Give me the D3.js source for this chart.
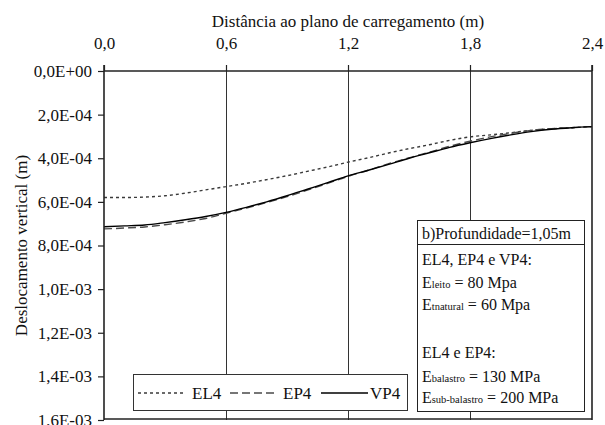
<!DOCTYPE html>
<html>
<head>
<meta charset="utf-8">
<script src="https://cdn.jsdelivr.net/npm/d3@7"></script>
<style>
  html, body { margin: 0; padding: 0; background: #fff; }
  svg { display: block; }
  svg text { font-family: "Liberation Serif", Tinos, "Times New Roman", Times, "DejaVu Serif", serif; }
</style>
</head>
<body>
<svg id="chart" width="605" height="425"></svg>
<script>
// Distance from the loading plane (m)
const distance = [0.0, 0.1, 0.2, 0.3, 0.4, 0.5, 0.6, 0.7, 0.8, 0.9, 1.0, 1.1, 1.2,
                  1.3, 1.4, 1.5, 1.6, 1.7, 1.8, 1.9, 2.0, 2.1, 2.2, 2.3, 2.4];

// Vertical displacement (m) for each model
const el4 = [5.80e-4, 5.80e-4, 5.78e-4, 5.72e-4, 5.60e-4, 5.45e-4, 5.30e-4, 5.15e-4, 4.98e-4,
             4.80e-4, 4.60e-4, 4.40e-4, 4.18e-4, 3.98e-4, 3.76e-4, 3.56e-4, 3.38e-4, 3.18e-4,
             3.02e-4, 2.93e-4, 2.83e-4, 2.72e-4, 2.65e-4, 2.60e-4, 2.55e-4];
const ep4 = [7.24e-4, 7.20e-4, 7.15e-4, 7.05e-4, 6.92e-4, 6.76e-4, 6.52e-4, 6.28e-4, 6.03e-4,
             5.76e-4, 5.46e-4, 5.15e-4, 4.83e-4, 4.55e-4, 4.25e-4, 3.98e-4, 3.72e-4, 3.45e-4,
             3.22e-4, 3.02e-4, 2.86e-4, 2.72e-4, 2.64e-4, 2.60e-4, 2.55e-4];
const vp4 = [7.14e-4, 7.10e-4, 7.06e-4, 6.95e-4, 6.82e-4, 6.67e-4, 6.48e-4, 6.25e-4, 6.00e-4,
             5.72e-4, 5.42e-4, 5.12e-4, 4.81e-4, 4.55e-4, 4.28e-4, 4.00e-4, 3.75e-4, 3.50e-4,
             3.29e-4, 3.10e-4, 2.93e-4, 2.78e-4, 2.67e-4, 2.60e-4, 2.55e-4];

const seriesNames = ["EL4", "EP4", "VP4"];
const xTicks = [0.0, 0.6, 1.2, 1.8, 2.4];
const yTicks = [0, 2e-4, 4e-4, 6e-4, 8e-4, 1.0e-3, 1.2e-3, 1.4e-3, 1.6e-3];

const xTitle = "Distância ao plano de carregamento (m)";
const yTitle = "Deslocamento vertical (m)";
const boxTitle = "b)Profundidade=1,05m";
// Each note line: [main symbol, subscript, rest]
const noteLines = [
  ["EL4, EP4 e VP4:", "", ""],
  ["E", "leito", " = 80 Mpa"],
  ["E", "tnatural", " = 60 Mpa"],
  ["", "", ""],
  ["EL4 e EP4:", "", ""],
  ["E", "balastro", " = 130 MPa"],
  ["E", "sub-balastro", " = 200 MPa"]
];

const styles = {
  EL4: { stroke: "#3a3a3a", dash: "3,3", width: 1.4 },
  EP4: { stroke: "#4a4a4a", dash: "8,4", width: 1.4 },
  VP4: { stroke: "#000000", dash: null, width: 1.4 }
};

const serif = '"Liberation Serif", Tinos, "Times New Roman", Times, "DejaVu Serif", serif';

const svg = d3.select("#chart").attr("font-family", serif);
const plotLeft = 104, plotRight = 592, plotTop = 71, plotBottom = 420;

const x = d3.scaleLinear().domain([0, 2.4]).range([plotLeft, plotRight]);
const y = d3.scaleLinear().domain([0, 1.6e-3]).range([plotTop, plotBottom]);

function excelSci(v) {
  if (v === 0) return "0,0E+00";
  const e = Math.floor(Math.log10(Math.abs(v)) + 1e-9);
  const m = v / Math.pow(10, e);
  const es = (e < 0 ? "-" : "+") + String(Math.abs(e)).padStart(2, "0");
  return m.toFixed(1).replace(".", ",") + "E" + es;
}

// Vertical grid lines
svg.append("g")
  .selectAll("line")
  .data(xTicks.slice(1, -1))
  .join("line")
  .attr("x1", d => Math.round(x(d)) + 0.5)
  .attr("x2", d => Math.round(x(d)) + 0.5)
  .attr("y1", plotTop)
  .attr("y2", plotBottom)
  .attr("stroke", "#333")
  .attr("stroke-width", 1);

// Series
const seriesValues = { EL4: el4, EP4: ep4, VP4: vp4 };
const rows = seriesNames.map(name => ({
  name,
  values: distance.map((d, i) => ({ x: d, y: seriesValues[name][i] }))
}));

const line = d3.line()
  .x(d => x(d.x))
  .y(d => y(d.y))
  .curve(d3.curveMonotoneX);

svg.append("g")
  .selectAll("path")
  .data(rows)
  .join("path")
  .attr("d", d => line(d.values))
  .attr("fill", "none")
  .attr("stroke", d => styles[d.name].stroke)
  .attr("stroke-width", d => styles[d.name].width)
  .attr("stroke-dasharray", d => styles[d.name].dash);

// Axes
const xAxis = d3.axisTop(x)
  .tickValues(xTicks)
  .tickSize(6)
  .tickSizeOuter(0)
  .tickPadding(16)
  .tickFormat(d => d.toFixed(1).replace(".", ","));

const gx = svg.append("g")
  .attr("transform", `translate(0,${plotTop})`)
  .call(xAxis);

const yAxis = d3.axisLeft(y)
  .tickValues(yTicks)
  .tickSize(6)
  .tickSizeOuter(0)
  .tickPadding(6)
  .tickFormat(excelSci);

const gy = svg.append("g")
  .attr("transform", `translate(${plotLeft},0)`)
  .call(yAxis);

[gx, gy].forEach(g => {
  g.attr("font-family", serif).attr("font-size", 17);
  g.select(".domain").remove();
  g.selectAll(".tick line").attr("stroke", "#222").attr("stroke-width", 1.2);
  g.selectAll(".tick text").attr("fill", "#111");
});

// Plot frame
const frame = svg.append("g").attr("fill", "none").attr("stroke", "#222").attr("stroke-width", 1.6);
frame.append("line").attr("x1", plotLeft).attr("x2", plotRight).attr("y1", plotTop).attr("y2", plotTop);
frame.append("line").attr("x1", plotLeft).attr("x2", plotLeft).attr("y1", plotTop - 6).attr("y2", plotBottom);
frame.append("line").attr("x1", plotRight).attr("x2", plotRight).attr("y1", plotTop - 6).attr("y2", plotBottom);
frame.append("line").attr("x1", plotLeft).attr("x2", plotRight).attr("y1", plotBottom - 1).attr("y2", plotBottom - 1);

// Axis titles
svg.append("text")
  .attr("x", (plotLeft + plotRight) / 2)
  .attr("y", 27)
  .attr("text-anchor", "middle")
  .attr("font-size", 17)
  .attr("fill", "#111")
  .text(xTitle);

svg.append("text")
  .attr("transform", `translate(27,${(plotTop + plotBottom) / 2}) rotate(-90)`)
  .attr("text-anchor", "middle")
  .attr("font-size", 17)
  .attr("fill", "#111")
  .text(yTitle);

// Legend
const legend = svg.append("g");
legend.append("rect")
  .attr("x", 133.5).attr("y", 374.5).attr("width", 274).attr("height", 36)
  .attr("fill", "#fff").attr("stroke", "#333").attr("stroke-width", 1);
const legendItems = [
  { name: "EL4", x0: 138, x1: 185, tx: 192 },
  { name: "EP4", x0: 230, x1: 277, tx: 283 },
  { name: "VP4", x0: 321, x1: 368, tx: 370 }
];
legendItems.forEach(it => {
  const s = styles[it.name];
  legend.append("line")
    .attr("x1", it.x0).attr("x2", it.x1).attr("y1", 393).attr("y2", 393)
    .attr("stroke", s.stroke).attr("stroke-width", s.width)
    .attr("stroke-dasharray", s.dash);
  legend.append("text")
    .attr("x", it.tx).attr("y", 399)
    .attr("font-size", 17).attr("fill", "#111")
    .text(it.name);
});

// Notes box
const note = svg.append("g");
note.append("rect")
  .attr("x", 417.5).attr("y", 220.5).attr("width", 167).attr("height", 24)
  .attr("fill", "#fff").attr("stroke", "#222").attr("stroke-width", 1);
note.append("rect")
  .attr("x", 417.5).attr("y", 244.5).attr("width", 167).attr("height", 167)
  .attr("fill", "#fff").attr("stroke", "#222").attr("stroke-width", 1);
note.append("text")
  .attr("x", 422).attr("y", 238.5)
  .attr("font-size", 16).attr("fill", "#111")
  .text(boxTitle);

const baselines = [264.5, 287.5, 310, 334, 358, 381.5, 403];
noteLines.forEach((ln, i) => {
  if (!ln[0]) return;
  const t = note.append("text")
    .attr("x", 422).attr("y", baselines[i])
    .attr("font-size", 16).attr("fill", "#111");
  t.append("tspan").text(ln[0]);
  if (ln[1]) t.append("tspan").attr("font-size", 10.5).text(ln[1]);
  if (ln[2]) t.append("tspan").text(ln[2]);
});
</script>
</body>
</html>
